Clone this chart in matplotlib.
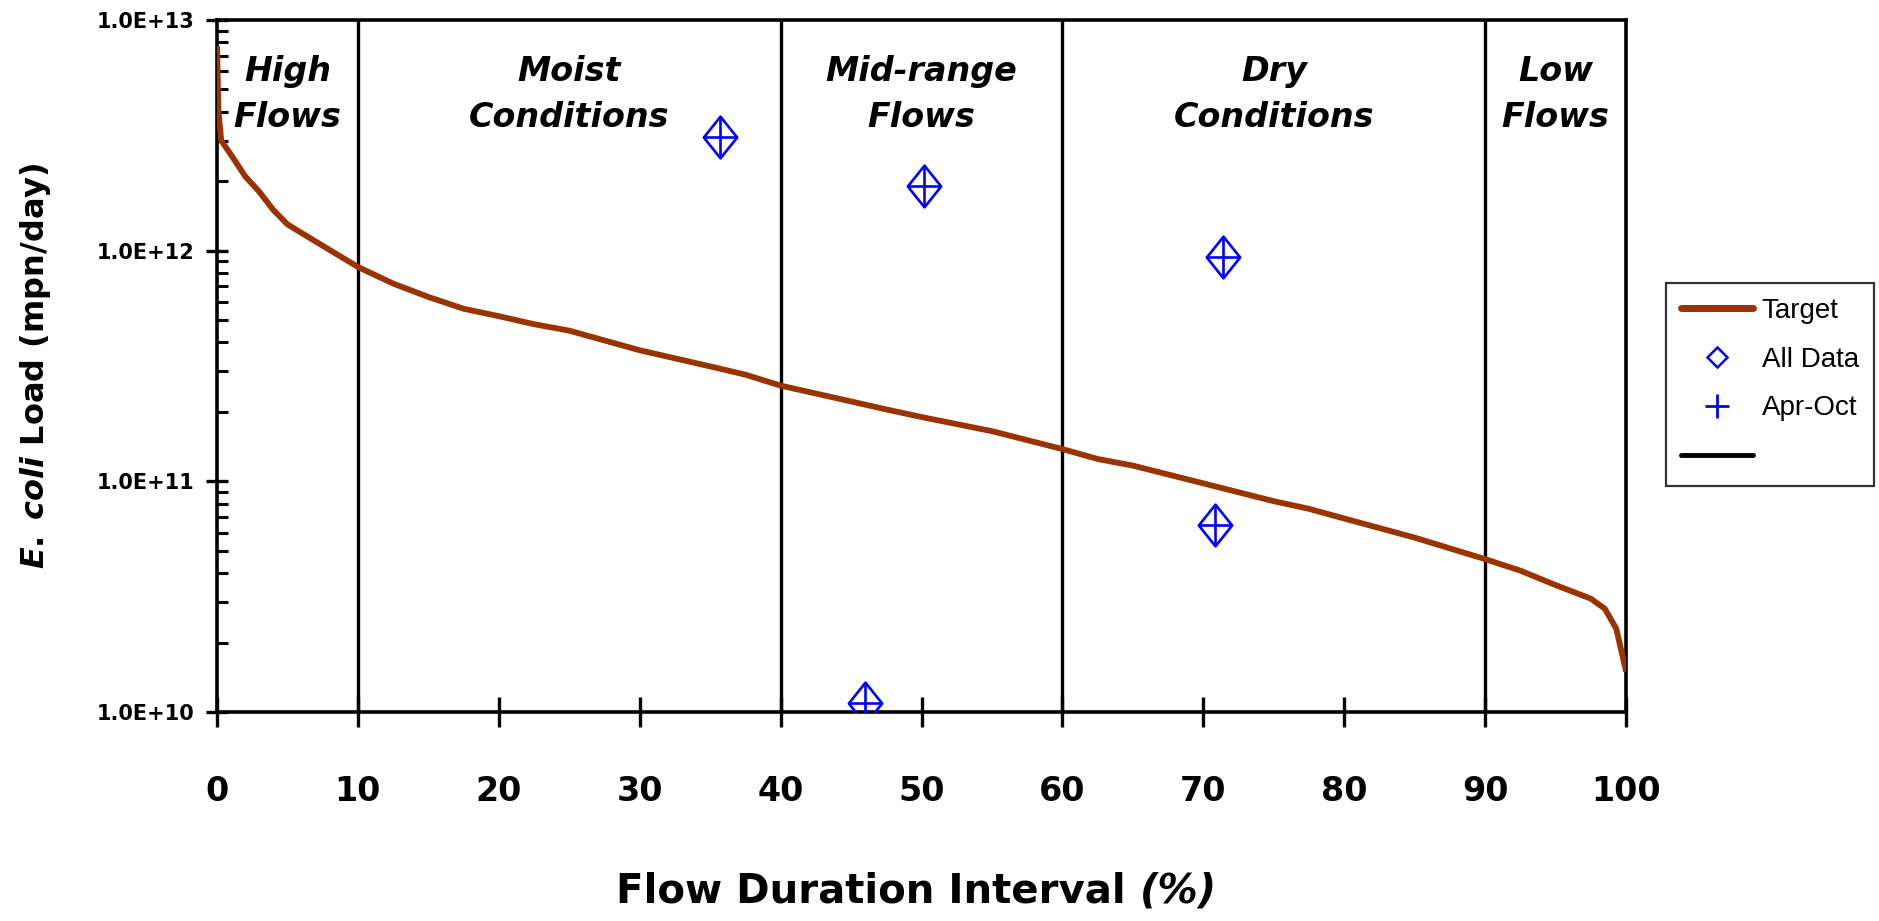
import matplotlib
matplotlib.use("Agg")
import matplotlib.pyplot as plt
import matplotlib.transforms as mtransforms
from matplotlib.lines import Line2D
from matplotlib.path import Path
from matplotlib.offsetbox import TextArea, HPacker, AnchoredOffsetbox
from matplotlib.ticker import FixedLocator, LogLocator, NullFormatter
import numpy as np

plt.rcParams['font.family'] = ['DejaVu Sans']
plt.rcParams['mathtext.fontset'] = 'custom'
plt.rcParams['mathtext.it'] = 'DejaVu Sans:bold:italic'
plt.rcParams['mathtext.rm'] = 'DejaVu Sans:bold'

# Target load duration curve
flow_pct = [0, 0.1, 0.3, 1, 2, 3, 4, 5, 7.5, 10, 12.5, 15, 17.5, 20, 22.5, 25,
            30, 35, 37.5, 40, 45, 47.5, 50, 55, 60, 62.5, 65, 70, 75, 77.5,
            80, 85, 90, 92.5, 95, 97.5, 98.5, 99.3, 100]
target = [7.7e12, 4.0e12, 3.0e12, 2.6e12, 2.1e12, 1.8e12, 1.5e12, 1.3e12,
          1.05e12, 8.5e11, 7.2e11, 6.3e11, 5.6e11, 5.2e11, 4.8e11, 4.5e11,
          3.7e11, 3.15e11, 2.9e11, 2.6e11, 2.22e11, 2.05e11, 1.9e11, 1.65e11,
          1.38e11, 1.25e11, 1.17e11, 9.8e10, 8.2e10, 7.6e10, 6.9e10, 5.7e10,
          4.6e10, 4.1e10, 3.55e10, 3.1e10, 2.8e10, 2.3e10, 1.5e10]

# Observed loads
obs_pct = [35.7, 50.2, 71.4, 70.8, 46.0]
all_data = [3.1e12, 1.9e12, 9.4e11, 6.5e10, 1.09e10]
apr_oct = [3.1e12, 1.9e12, 9.4e11, 6.5e10, 1.09e10]

zone_edges = [10, 40, 60, 90]
zone_centers = [5, 25, 50, 75, 95]
zone_names = ["High\nFlows", "Moist\nConditions", "Mid-range\nFlows",
              "Dry\nConditions", "Low\nFlows"]

xticks = [0, 10, 20, 30, 40, 50, 60, 70, 80, 90, 100]
yticks = [1e10, 1e11, 1e12, 1e13]
ytick_labels = ["1.0E+10", "1.0E+11", "1.0E+12", "1.0E+13"]

brown = "#993300"
blue = "#0000ff"

fig = plt.figure(figsize=(18.79, 9.21), dpi=100)
ax = fig.add_axes([0.1155, 0.2269, 0.8654 - 0.1155, 0.9783 - 0.2269])

# zone separators
for xe in zone_edges:
    ax.axvline(xe, color='black', lw=2.4, zorder=1)

ax.plot(flow_pct, target, color=brown, lw=4.2, solid_capstyle='butt', zorder=3)

diamond = Path([(0, 1), (0.8, 0), (0, -1), (-0.8, 0), (0, 1)],
               [Path.MOVETO, Path.LINETO, Path.LINETO, Path.LINETO, Path.CLOSEPOLY])
cross = Path([(0, -1), (0, 1), (-0.8, 0), (0.8, 0)],
             [Path.MOVETO, Path.LINETO, Path.MOVETO, Path.LINETO])
ax.plot(obs_pct, all_data, ls='none', marker=diamond, ms=30, mfc='none',
        mec=blue, mew=1.9, zorder=4)
ax.plot(obs_pct, apr_oct, ls='none', marker=cross, ms=30, mfc='none',
        mec=blue, mew=1.9, zorder=4)

ax.set_yscale('log')
ax.set_xlim(0, 100)
ax.set_ylim(1e10, 1e13)

ax.xaxis.set_major_locator(FixedLocator(xticks))
ax.set_xticklabels([str(t) for t in xticks])
ax.yaxis.set_major_locator(FixedLocator(yticks))
ax.set_yticklabels(ytick_labels)
ax.yaxis.set_minor_locator(LogLocator(base=10, subs=np.arange(2, 10)))
ax.yaxis.set_minor_formatter(NullFormatter())

ax.tick_params(axis='x', direction='inout', length=22, width=2.4, pad=34,
               labelsize=24)
for lab in ax.get_xticklabels():
    lab.set_fontweight('bold')
ax.tick_params(axis='y', which='major', direction='inout', length=16,
               width=2.4, pad=8, labelsize=15)
for lab in ax.get_yticklabels():
    lab.set_fontweight('bold')
ax.tick_params(axis='y', which='minor', direction='in', length=8, width=2.2)

for sp in ax.spines.values():
    sp.set_linewidth(2.6)

trans = mtransforms.blended_transform_factory(ax.transData, ax.transAxes)
for xc, name in zip(zone_centers, zone_names):
    ax.text(xc, 0.893, name, transform=trans, ha='center', va='center',
            fontsize=24, fontweight='bold', fontstyle='italic', linespacing=1.5)

# x label with italic "(%)"
xl_box = HPacker(children=[
    TextArea("Flow Duration Interval ", textprops=dict(fontsize=29, fontweight='bold')),
    TextArea("(%)", textprops=dict(fontsize=29, fontweight='bold', fontstyle='italic')),
], pad=0, sep=0, align='baseline')
xl_anchor = AnchoredOffsetbox(loc='center', child=xl_box, pad=0, borderpad=0,
                              frameon=False, bbox_to_anchor=(0.4877, 0.032),
                              bbox_transform=fig.transFigure)
fig.add_artist(xl_anchor)

ax.set_ylabel(r"$\mathit{E.\;coli}$ Load (mpn/day)", fontsize=23,
              fontweight='bold', labelpad=32)

handles = [
    Line2D([], [], color=brown, lw=5, solid_capstyle='round'),
    Line2D([], [], ls='none', marker='D', ms=10, mfc='none', mec=blue, mew=1.8),
    Line2D([], [], ls='none', marker='+', ms=17, mec=blue, mew=2),
    Line2D([], [], color='black', lw=3.5, solid_capstyle='round'),
]
leg = fig.legend(handles, ["Target", "All Data", "Apr-Oct", " "],
                 loc='center left', bbox_to_anchor=(0.8865, 0.583),
                 frameon=True, fancybox=False, edgecolor='black',
                 prop={'family': 'Liberation Sans', 'size': 20},
                 handlelength=2.6, handletextpad=0.3, borderpad=0.55,
                 borderaxespad=0, labelspacing=0.82)
leg.get_frame().set_linewidth(1.6)

plt.savefig("out.png", dpi=100)
